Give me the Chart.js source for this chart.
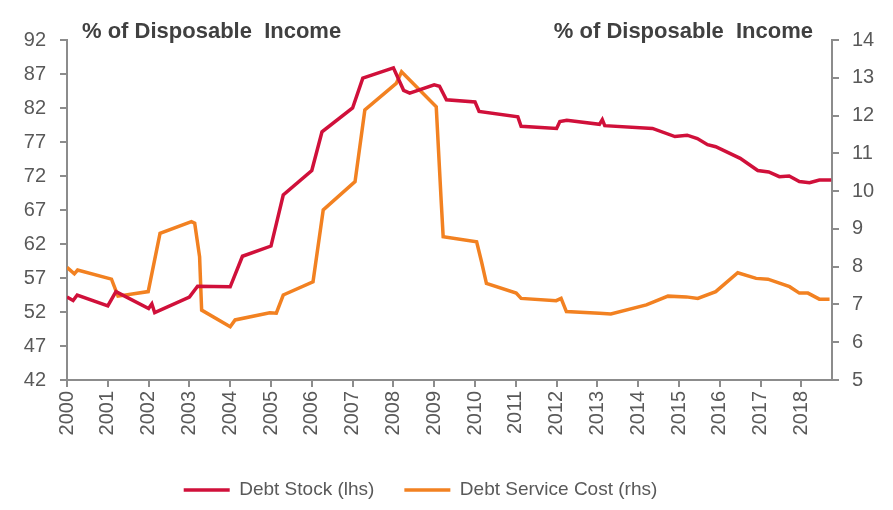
<!DOCTYPE html>
<html>
<head>
<meta charset="utf-8">
<script src="https://cdn.jsdelivr.net/npm/chart.js@4.4.1/dist/chart.umd.min.js"></script>
<style>
  html, body { margin: 0; padding: 0; background: #fff; }
  #wrap { width: 893px; height: 510px; }
</style>
</head>
<body>
<div id="wrap"><canvas id="chart"></canvas></div>
<script>
// --- data (decimal years) ---
const stockT = [2000.0, 2000.15, 2000.25, 2001.0, 2001.2, 2002.0, 2002.08, 2002.15, 2003.0, 2003.2,
  2004.0, 2004.3, 2005.0, 2005.3, 2006.0, 2006.25, 2007.0, 2007.25, 2008.0, 2008.25,
  2008.4, 2009.0, 2009.13, 2009.3, 2010.0, 2010.1, 2011.05, 2011.13, 2012.0, 2012.08,
  2012.25, 2013.05, 2013.12, 2013.18, 2014.35, 2014.9, 2015.2, 2015.45, 2015.7, 2015.9,
  2016.5, 2016.93, 2017.2, 2017.46, 2017.7, 2017.95, 2018.2, 2018.44, 2018.73];
const stockV = [54.2, 53.7, 54.5, 52.9, 55.0, 52.5, 53.2, 51.9, 54.2, 55.8,
  55.7, 60.2, 61.7, 69.2, 72.8, 78.5, 82.0, 86.4, 87.9, 84.6,
  84.2, 85.4, 85.2, 83.2, 82.9, 81.5, 80.7, 79.3, 79.0, 80.0,
  80.2, 79.6, 80.3, 79.4, 79.0, 77.8, 78.0, 77.5, 76.6, 76.3,
  74.6, 72.8, 72.6, 71.9, 72.0, 71.2, 71.0, 71.4, 71.4];

const costT = [2000.0, 2000.18, 2000.26, 2001.09, 2001.25, 2001.99, 2002.28, 2003.05, 2003.13, 2003.25,
  2003.3, 2004.0, 2004.12, 2004.97, 2005.13, 2005.3, 2006.03, 2006.28, 2007.06, 2007.3,
  2008.07, 2008.2, 2009.05, 2009.17, 2009.22, 2010.04, 2010.16, 2010.28, 2011.01, 2011.13,
  2011.99, 2012.11, 2012.24, 2013.05, 2013.33, 2014.2, 2014.73, 2015.18, 2015.46, 2015.9,
  2016.44, 2016.89, 2017.18, 2017.71, 2017.95, 2018.16, 2018.44, 2018.69];
const costV = [7.98, 7.81, 7.91, 7.67, 7.22, 7.34, 8.88, 9.19, 9.15, 8.26,
  6.85, 6.41, 6.59, 6.78, 6.77, 7.25, 7.60, 9.50, 10.25, 12.15,
  12.85, 13.16, 12.23, 9.76, 8.79, 8.66, 8.13, 7.56, 7.30, 7.16,
  7.10, 7.16, 6.81, 6.77, 6.75, 6.99, 7.22, 7.20, 7.16, 7.34,
  7.84, 7.69, 7.67, 7.47, 7.30, 7.30, 7.14, 7.14];

const seriesNames = ["Debt Stock (lhs)", "Debt Service Cost (rhs)"];
const axisTitle = "% of Disposable  Income";

function toPoints(ts, vs) {
  return ts.map((t, i) => ({ x: t, y: vs[i] }));
}

const FONT = "'Liberation Sans', Arial, sans-serif";
const tickFont = { family: FONT, size: 20 };
const tickColor = "#595959";
const axisColor = "#8c8c8c";

// 上方的兩個軸標題 + 圖例位置微調
const titlePlugin = {
  id: "axisTitles",
  afterInit(chart) {
    // 圖例高度固定，讓圖例落在底部
    const legend = chart.legend;
    if (legend) {
      const fit = legend.fit;
      legend.fit = function () {
        fit.call(this);
        this.height = 59.5;
      };
    }
  },
  afterLayout(chart) {
    // 參考圖的圖例略偏左
    if (chart.legend) {
      chart.legend.left -= 26;
      chart.legend.right -= 26;
    }
  },
  afterDraw(chart) {
    const ctx = chart.ctx;
    const area = chart.chartArea;
    ctx.save();
    ctx.font = "bold 22px " + FONT;
    ctx.fillStyle = "#404040";
    ctx.textBaseline = "middle";
    ctx.textAlign = "left";
    ctx.fillText(axisTitle, area.left + 15, 32);
    ctx.textAlign = "right";
    ctx.fillText(axisTitle, area.right - 19, 32);
    ctx.restore();
  },
};

new Chart(document.getElementById("chart"), {
  type: "line",
  data: {
    datasets: [
      {
        label: seriesNames[0],
        data: toPoints(stockT, stockV),
        borderColor: "#d0103a",
        backgroundColor: "#d0103a",
        borderWidth: 3.5,
        pointRadius: 0,
        tension: 0,
        yAxisID: "y",
      },
      {
        label: seriesNames[1],
        data: toPoints(costT, costV),
        borderColor: "#f28121",
        backgroundColor: "#f28121",
        borderWidth: 3.5,
        pointRadius: 0,
        tension: 0,
        yAxisID: "y1",
      },
    ],
  },
  options: {
    responsive: true,
    maintainAspectRatio: false,
    animation: false,
    layout: { padding: { top: 40, left: 0, right: 0, bottom: 0 } },
    scales: {
      x: {
        type: "linear",
        min: 2000,
        max: 2018.75,
        grid: { drawOnChartArea: false, color: axisColor, tickLength: 7, lineWidth: 2 },
        border: { color: axisColor, width: 2 },
        afterBuildTicks: (scale) => {
          scale.ticks = scale.ticks.filter((t) => Number.isInteger(t.value));
        },
        afterFit: (scale) => { scale.height = 70.5; },
        ticks: {
          stepSize: 1,
          autoSkip: false,
          minRotation: 90,
          maxRotation: 90,
          padding: 4,
          color: tickColor,
          font: tickFont,
          callback: (v) => String(v),
        },
      },
      y: {
        position: "left",
        min: 42,
        max: 92,
        grid: { drawOnChartArea: false, color: axisColor, tickLength: 7, lineWidth: 2 },
        border: { color: axisColor, width: 2 },
        afterFit: (scale) => { scale.width = 67; },
        ticks: { stepSize: 5, color: tickColor, font: tickFont, padding: 14 },
      },
      y1: {
        position: "right",
        min: 5,
        max: 14,
        grid: { drawOnChartArea: false, color: axisColor, tickLength: 7, lineWidth: 2 },
        border: { color: axisColor, width: 2 },
        afterFit: (scale) => { scale.width = 61; },
        ticks: { stepSize: 1, color: tickColor, font: tickFont, padding: 13 },
      },
    },
    plugins: {
      legend: {
        position: "bottom",
        labels: {
          usePointStyle: true,
          pointStyle: "line",
          pointStyleWidth: 46,
          padding: 30,
          color: tickColor,
          font: { family: FONT, size: 19 },
        },
      },
      tooltip: { enabled: false },
    },
  },
  plugins: [titlePlugin],
});
</script>
</body>
</html>
